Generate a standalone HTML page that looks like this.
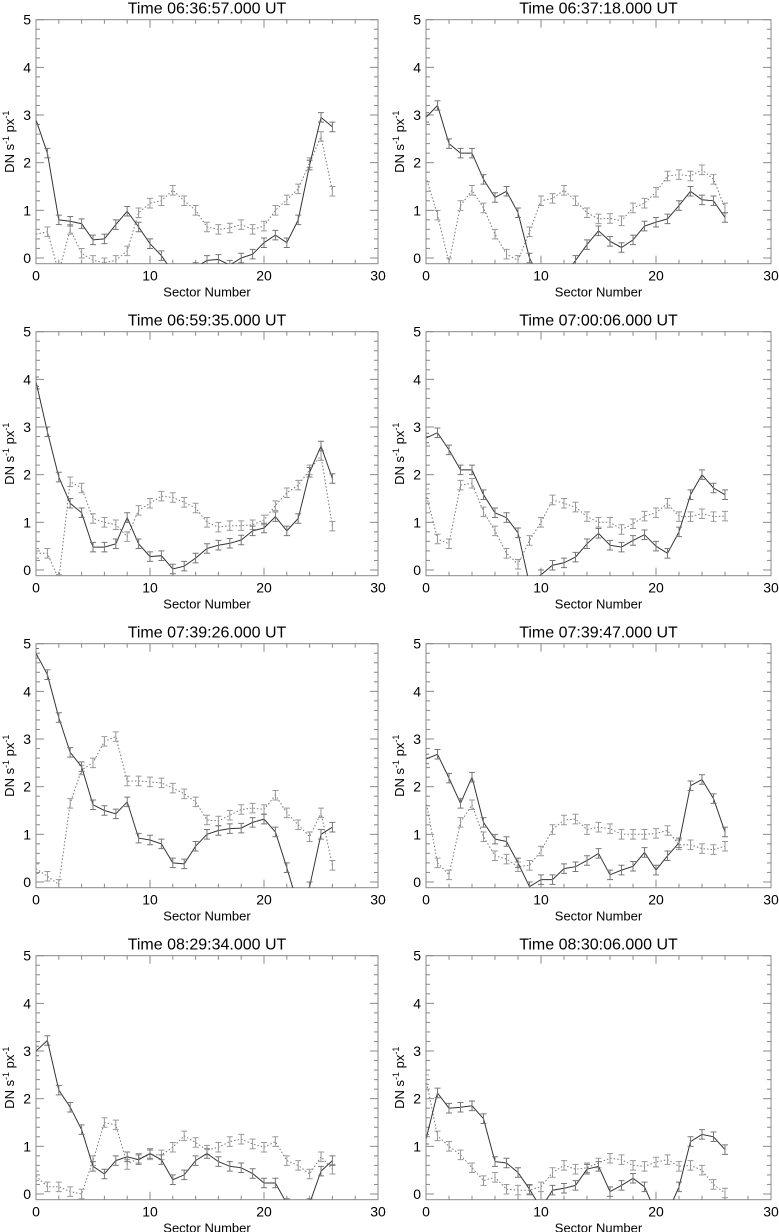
<!DOCTYPE html>
<html><head><meta charset="utf-8">
<style>
html,body{margin:0;padding:0;background:#fff;}
svg{display:block;font-family:"Liberation Sans",Arial,sans-serif;}
</style></head>
<body>
<svg id="fig" width="779" height="1232" viewBox="0 0 779 1232" xmlns="http://www.w3.org/2000/svg"></svg>
<script>
const titles = ["Time 06:36:57.000 UT","Time 06:37:18.000 UT","Time 06:59:35.000 UT","Time 07:00:06.000 UT","Time 07:39:26.000 UT","Time 07:39:47.000 UT","Time 08:29:34.000 UT","Time 08:30:06.000 UT"];
const sectors = [0,1,2,3,4,5,6,7,8,9,10,11,12,13,14,15,16,17,18,19,20,21,22,23,24,25,26];
const xTicks = [0,10,20,30];
const yTicks = [0,1,2,3,4,5];
const solid1 = [2.9,2.2,0.8,0.77,0.72,0.38,0.4,0.7,0.98,0.65,0.3,0.05,-0.3,-0.4,-0.2,-0.05,-0.03,-0.15,0.0,0.08,0.32,0.48,0.32,0.8,1.95,2.95,2.75];
const dot1 = [0.5,0.55,-0.3,0.6,0.1,-0.05,-0.1,-0.05,0.15,0.95,1.15,1.2,1.42,1.2,1.0,0.65,0.6,0.63,0.7,0.6,0.67,1.0,1.22,1.45,2.0,2.55,1.4];
const solid2 = [2.95,3.2,2.4,2.2,2.2,1.65,1.27,1.4,0.95,0.0,-0.5,-0.6,-0.4,-0.05,0.28,0.57,0.35,0.22,0.38,0.67,0.75,0.82,1.1,1.4,1.22,1.2,0.85];
const dot2 = [1.7,0.9,-0.1,1.1,1.42,1.05,0.5,0.08,-0.05,0.55,1.2,1.25,1.42,1.2,0.95,0.82,0.83,0.78,1.05,1.15,1.38,1.72,1.75,1.72,1.85,1.65,1.05];
const solid3 = [3.95,2.9,1.95,1.4,1.2,0.48,0.48,0.55,1.1,0.55,0.28,0.3,0.02,0.08,0.25,0.45,0.52,0.56,0.63,0.82,0.88,1.12,0.82,1.08,2.05,2.6,1.92];
const dot3 = [0.35,0.35,-0.2,1.85,1.72,1.08,1.0,0.95,0.7,1.25,1.4,1.55,1.52,1.42,1.3,1.0,0.9,0.93,0.93,0.95,1.05,1.35,1.62,1.78,2.1,2.4,0.92];
const solid4 = [2.77,2.88,2.52,2.1,2.1,1.58,1.2,1.1,0.78,-0.3,-0.1,0.1,0.15,0.27,0.55,0.77,0.52,0.48,0.62,0.74,0.5,0.35,0.8,1.58,2.0,1.72,1.58];
const dot4 = [1.6,0.65,0.55,1.78,1.82,1.22,0.82,0.35,0.12,0.62,1.0,1.47,1.4,1.32,1.12,1.0,1.0,0.85,0.97,1.13,1.2,1.4,1.12,1.12,1.18,1.12,1.13];
const solid5 = [4.8,4.35,3.45,2.72,2.42,1.62,1.5,1.43,1.68,0.92,0.88,0.8,0.4,0.38,0.75,1.0,1.08,1.12,1.13,1.25,1.32,1.05,0.3,-0.5,-0.1,1.0,1.15];
const dot5 = [0.28,0.12,-0.05,1.65,2.35,2.5,2.95,3.05,2.12,2.12,2.1,2.08,1.97,1.85,1.68,1.3,1.28,1.4,1.52,1.55,1.52,1.82,1.45,1.2,0.95,1.45,0.35];
const solid6 = [2.58,2.68,2.18,1.65,2.2,1.25,0.9,0.85,0.4,-0.1,0.05,0.05,0.28,0.32,0.45,0.6,0.15,0.25,0.33,0.62,0.25,0.55,0.82,2.02,2.15,1.75,1.05];
const dot6 = [1.7,0.4,0.15,1.25,1.62,0.95,0.55,0.48,0.32,0.35,0.65,1.1,1.3,1.32,1.1,1.15,1.12,1.0,1.0,1.0,1.02,1.08,0.78,0.78,0.7,0.68,0.75];
const solid7 = [3.0,3.22,2.18,1.82,1.35,0.58,0.42,0.7,0.78,0.72,0.85,0.72,0.3,0.4,0.7,0.85,0.68,0.58,0.55,0.43,0.23,0.23,-0.2,-0.6,-0.2,0.48,0.7];
const dot7 = [0.38,0.15,0.15,0.05,0.0,0.7,1.5,1.45,0.62,0.75,0.82,0.82,0.98,1.22,1.08,0.92,0.98,1.1,1.15,1.05,0.98,1.1,0.7,0.6,0.42,0.78,0.52];
const solid8 = [1.15,2.12,1.8,1.82,1.85,1.58,0.68,0.65,0.45,0.1,-0.3,0.08,0.12,0.18,0.52,0.58,0.05,0.18,0.33,0.15,-0.4,-0.4,0.15,1.1,1.25,1.2,0.93];
const dot8 = [2.4,1.22,1.0,0.82,0.55,0.28,0.35,0.1,0.08,0.08,0.15,0.45,0.6,0.52,0.55,0.65,0.75,0.72,0.6,0.58,0.67,0.72,0.58,0.6,0.5,0.2,0.02];
const solidSeries = [solid1,solid2,solid3,solid4,solid5,solid6,solid7,solid8];
const dotSeries = [dot1,dot2,dot3,dot4,dot5,dot6,dot7,dot8];
const errSize = 0.1;

const NS="http://www.w3.org/2000/svg";
const svg=document.getElementById('fig');
function mk(tag,attrs,parent){const e=document.createElementNS(NS,tag);for(const k in attrs)e.setAttribute(k,attrs[k]);(parent||svg).appendChild(e);return e;}

const XMIN=0,XMAX=30,YMIN=-0.12,YMAX=5;
for(let p=0;p<8;p++){
  const col=p%2,row=Math.floor(p/2);
  const L = col===0?36:426, R = col===0?378:771;
  const T = 19.7+row*312, B = T+244;
  const sx=v=>L+(v-XMIN)/(XMAX-XMIN)*(R-L);
  const sy=v=>B-(v-YMIN)/(YMAX-YMIN)*(B-T);
  const g=mk('g',{});
  
  
  const t=mk('text',{x:(L+R)/2,y:T-6,'text-anchor':'middle','font-size':16,fill:'#000'},g);
  t.textContent=titles[p];
  
  
  const cid='clip'+p;
  const cp=mk('clipPath',{id:cid},g);
  mk('rect',{x:L,y:T,width:R-L,height:B-T},cp);
  // frame
  const fr=mk('rect',{x:L,y:T,width:R-L,height:B-T,fill:'none',stroke:'#888','stroke-width':1},g);
  
  
  // x ticks
  for(let v=0;v<=30;v+=2){
    const major=v%10===0, len=major?8:4, x=sx(v);
    mk('line',{x1:x,y1:B,x2:x,y2:B-len,stroke:'#888'},g);
    mk('line',{x1:x,y1:T,x2:x,y2:T+len,stroke:'#888'},g);
  }
  for(let i=0;i<=25;i++){
    const v=i*0.2, major=i%5===0, len=major?8:4, y=sy(v);
    mk('line',{x1:L,y1:y,x2:L+len,y2:y,stroke:'#888'},g);
    mk('line',{x1:R,y1:y,x2:R-len,y2:y,stroke:'#888'},g);
  }
  xTicks.forEach(v=>{
    const tx=mk('text',{x:sx(v),y:B+17,'text-anchor':'middle','font-size':14,fill:'#000'},g);
    tx.textContent=v;
    
    
  });
  yTicks.forEach(v=>{
    const ty=mk('text',{x:L-5,y:sy(v)+5,'text-anchor':'end','font-size':14,fill:'#000'},g);
    ty.textContent=v;
    
    
  });
  const xt=mk('text',{x:(L+R)/2,y:B+33,'text-anchor':'middle','font-size':13,fill:'#000'},g);
  xt.textContent='Sector Number';
  
  
  const yc=(T+B)/2, yx=L-22;
  const yt=mk('text',{x:yx,y:yc,'text-anchor':'middle','font-size':13,fill:'#000',transform:`rotate(-90 ${yx} ${yc})`},g);
  yt.innerHTML='DN s<tspan dy="-5" font-size="9">-1</tspan><tspan dy="5"> px</tspan><tspan dy="-5" font-size="9">-1</tspan>';
  
  
  const pg=mk('g',{'clip-path':`url(#${cid})`},g);
  function series(vals,color,dash,name,ecol){
    const pts=vals.map((v,i)=>sx(sectors[i]).toFixed(1)+','+sy(v).toFixed(1)).join(' ');
    const pl=mk('polyline',{points:pts,fill:'none',stroke:color,'stroke-width':1,'stroke-dasharray':dash},pg);
    
    
    vals.forEach((v,i)=>{
      const x=sx(sectors[i]),y1=sy(v+errSize),y2=sy(v-errSize);
      const eb=mk('path',{d:`M${x},${y1}V${y2}M${x-3},${y1}H${x+3}M${x-3},${y2}H${x+3}`,stroke:ecol,fill:'none','stroke-width':1},pg);
      
      
    });
  }
  series(dotSeries[p],'#777','1.5 2','dotted-series','#999');
  series(solidSeries[p],'#333','','solid-series','#777');
}
</script>
</body></html>
